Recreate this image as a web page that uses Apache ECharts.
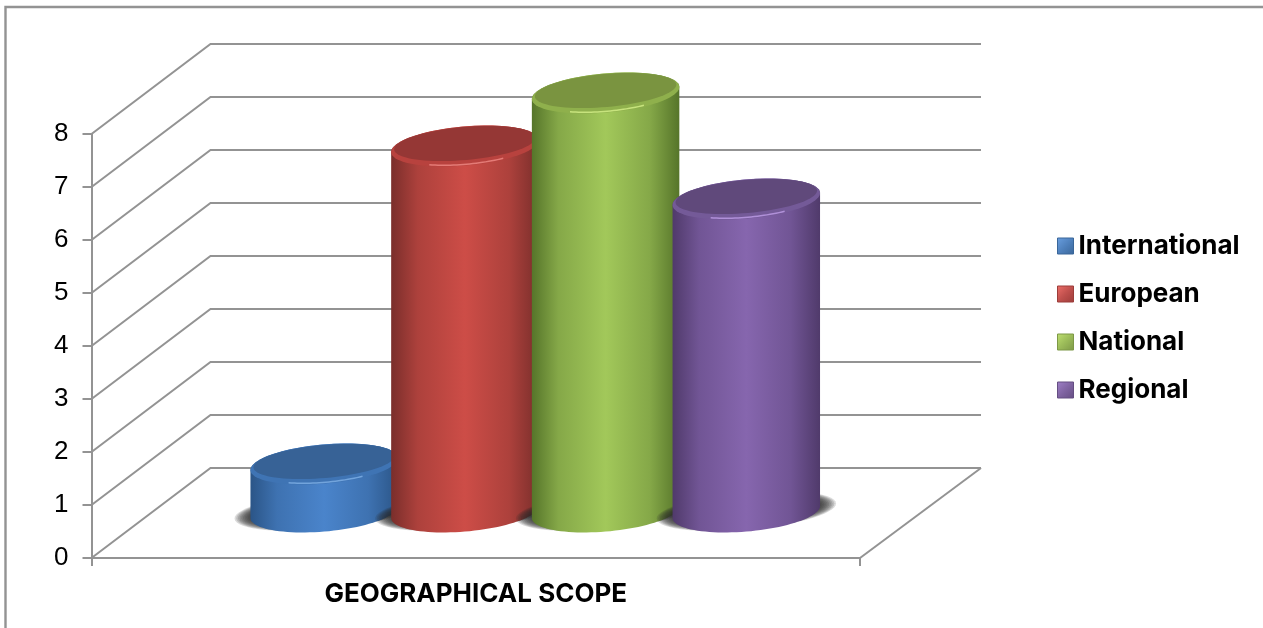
<!DOCTYPE html>
<html><head><meta charset="utf-8">
<style>html,body{margin:0;padding:0;background:#fff}#c{width:1263px;height:628px}</style>
<script src="https://cdn.jsdelivr.net/npm/echarts@6/dist/echarts.min.js"></script>
</head><body><div id="c"></div>
<script>
var categories = ['GEOGRAPHICAL SCOPE'];
var yTicks = [0,1,2,3,4,5,6,7,8];
var international = [1];
var european = [7];
var national = [8];
var regional = [6];
var seriesNames = ['International','European','National','Regional'];
var seriesValues = [international, european, national, regional];
var palette = [
 {edge:'#2b5587',mid:'#4a84cb',top:'#376296',rim:'#3f74b4',hi:'#7fb0e6',leg:'#4f81bd',legHi:'#6a9fe0',legLo:'#3a6699'},
 {edge:'#7a2e2b',mid:'#cd4d47',top:'#953735',rim:'#b8423e',hi:'#ef8a84',leg:'#c0504d',legHi:'#ee6f69',legLo:'#9c3d3a'},
 {edge:'#56752a',mid:'#a2c85a',top:'#7a9440',rim:'#8fb04c',hi:'#d4f08a',leg:'#9bbb59',legHi:'#bfe070',legLo:'#7d9847'},
 {edge:'#503a6b',mid:'#8666ae',top:'#60497b',rim:'#745a98',hi:'#bf9ee8',leg:'#8064a2',legHi:'#9f80c8',legLo:'#654e82'}
];
var DEPTH_X = 119, DEPTH_Y = 90, GRID_COLOR = '#939393';
var SPACING = 140.7, RX = 74, RY = 19.5, TILT = -5 * Math.PI / 180;

function ell(cx, cy, rx, ry, a0, a1, n) {
  var pts = [], c = Math.cos(TILT), s = Math.sin(TILT);
  for (var i = 0; i <= n; i++) {
    var t = a0 + (a1 - a0) * i / n;
    pts.push([cx + rx * Math.cos(t) * c - ry * Math.sin(t) * s,
              cy + rx * Math.cos(t) * s + ry * Math.sin(t) * c]);
  }
  return pts;
}
function wallItem(params, api) {
  var p = api.coord([0, api.value(1)]);
  var x0 = params.coordSys.x, x1 = x0 + params.coordSys.width;
  var st = {stroke: GRID_COLOR, lineWidth: 2, fill: null};
  var children = [{type:'polyline', shape:{points:[[x0,p[1]],[x0+DEPTH_X,p[1]-DEPTH_Y],[x1+DEPTH_X+2,p[1]-DEPTH_Y]]}, style:st}];
  if (api.value(1) === 0) {
    children.push({type:'line', shape:{x1:x1,y1:p[1],x2:x1+DEPTH_X+2,y2:p[1]-DEPTH_Y}, style:{stroke:GRID_COLOR,lineWidth:2}});
  }
  return {type:'group', children:children};
}
function blend(a, b, k) {
  var pa = parseInt(a.slice(1), 16), pb = parseInt(b.slice(1), 16), out = [];
  [16, 8, 0].forEach(function (sh) {
    out.push(Math.round(((pa >> sh) & 255) * (1 - k) + ((pb >> sh) & 255) * k));
  });
  return 'rgb(' + out.join(',') + ')';
}
function cylinderItem(idx) {
  return function (params, api) {
    var c = palette[idx];
    var band = api.coord([0, api.value(1)]);
    var base = api.coord([0, 0]);
    var cx = band[0] + (idx - 1.5) * SPACING + DEPTH_X / 2;
    var by = base[1] - DEPTH_Y / 2 - 1;
    var ty = band[1] - DEPTH_Y / 2 + 4;
    var t0 = Math.atan(-(RY / RX) * Math.tan(TILT));
    var lower = ell(cx, by, RX, RY, t0, t0 + Math.PI, 48);
    var upper = ell(cx, ty, RX, RY, t0 + Math.PI, t0 + 2 * Math.PI, 48);
    var body = lower.concat(upper);
    var grad = {type:'linear',x:0,y:0,x2:1,y2:0,colorStops:[
      {offset:0,color:c.edge},
      {offset:0.18,color:blend(c.edge, c.mid, 0.62)},
      {offset:0.5,color:c.mid},
      {offset:0.8,color:blend(c.edge, c.mid, 0.62)},
      {offset:1,color:c.edge}]};
    var hi = ell(cx, ty, RX - 3, RY - 1.2, 0.5 * Math.PI - 0.55, 0.5 * Math.PI + 0.55, 24);
    var children = [];
    for (var s = 0; s < 10; s++) {
      children.push({type:'polygon', shape:{points:ell(cx, by - 1, RX + 16 - s * 1.7, RY - 1 - s * 0.5, 0, 2 * Math.PI, 60)},
        style:{fill:'rgba(40,40,40,0.17)'}});
    }
    children.push(
      {type:'polygon', shape:{points:body}, style:{fill:grad}},
      {type:'polygon', shape:{points:ell(cx, ty, RX, RY, 0, 2 * Math.PI, 80)}, style:{fill:c.rim}},
      {type:'polygon', shape:{points:ell(cx, ty - 2.5, RX - 3, RY - 3, 0, 2 * Math.PI, 80)}, style:{fill:c.top}},
      {type:'polyline', shape:{points:hi}, style:{stroke:c.hi, lineWidth:1.5, fill:null, opacity:0.8}}
    );
    return {type:'group', children:children};
  };
}
var series = [{
  type:'custom', name:'walls', silent:true, z:1,
  renderItem:wallItem,
  data:yTicks.map(function (v) { return [0, v]; }),
  encode:{x:0,y:1}
}];
seriesNames.forEach(function (n, i) {
  series.push({
    type:'custom', name:n, z:2 + i,
    renderItem:cylinderItem(i),
    itemStyle:{color:palette[i].leg},
    data:seriesValues[i].map(function (v, j) { return [j, v]; }),
    encode:{x:0,y:1}
  });
});
var chart = echarts.init(document.getElementById('c'), null, {renderer:'canvas'});
chart.setOption({
  animation:false,
  backgroundColor:'#fff',
  grid:{left:91.5, right:403, top:134, bottom:70, containLabel:false},
  xAxis:{type:'category', data:categories,
    axisLine:{lineStyle:{color:GRID_COLOR,width:2}},
    axisTick:{show:true,length:8,lineStyle:{color:GRID_COLOR,width:2}},
    axisLabel:{fontFamily:'Inter',fontWeight:'bold',fontSize:26,color:'#000',margin:23}},
  yAxis:{type:'value', min:0, max:8, interval:1,
    splitLine:{show:false},
    axisLine:{show:true,lineStyle:{color:GRID_COLOR,width:2}},
    axisTick:{show:true,length:9,lineStyle:{color:GRID_COLOR,width:2}},
    axisLabel:{fontFamily:'Liberation Sans',fontSize:26,color:'#000',margin:23}},
  legend:{orient:'vertical', left:1057, top:230, padding:0, itemGap:16, itemWidth:16, itemHeight:16, icon:'rect',
    data:seriesNames.map(function (n, i) {
      return {name:n, itemStyle:{color:{type:'linear',x:0,y:0,x2:1,y2:1,colorStops:[
        {offset:0,color:palette[i].legHi},{offset:0.5,color:palette[i].leg},{offset:1,color:palette[i].legLo}]},
        borderColor:palette[i].legLo,borderWidth:1}};
    }),
    selectedMode:false,
    textStyle:{fontFamily:'Inter',fontWeight:'bold',fontSize:26,color:'#000',lineHeight:32}},
  graphic:[
    {type:'polyline',silent:true,shape:{points:[[5.5,628],[5.5,7],[1263,7]]},style:{stroke:GRID_COLOR,lineWidth:2.4,fill:null}}
  ],
  series:series
});
</script></body></html>
